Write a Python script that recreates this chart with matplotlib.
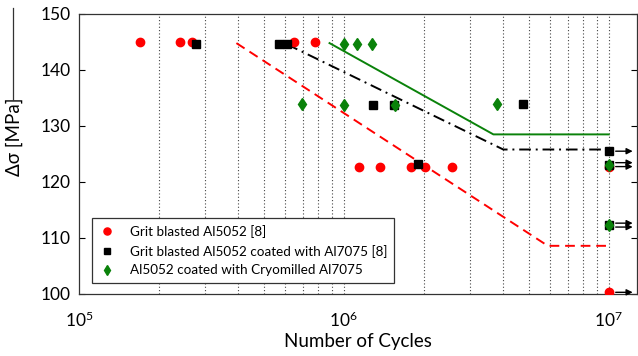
import numpy as np
import matplotlib
matplotlib.use("Agg")
import matplotlib.pyplot as plt
from matplotlib.lines import Line2D

plt.rcParams['font.family'] = ['Lato', 'DejaVu Sans']

# ---- data ----
red_x = [1.70e5, 2.41e5, 2.66e5, 6.46e5, 7.78e5, 1.14e6, 1.37e6, 1.79e6, 2.03e6, 2.55e6, 1.0e7, 1.0e7]
red_y = [145.0, 145.0, 145.0, 145.0, 145.0, 122.7, 122.7, 122.7, 122.7, 122.7, 122.6, 100.3]

blk_x = [2.77e5, 5.70e5, 6.09e5, 1.29e6, 1.55e6, 1.91e6, 4.75e6, 1.0e7, 1.0e7, 1.0e7]
blk_y = [144.7, 144.6, 144.7, 133.7, 133.7, 123.2, 134.0, 125.5, 123.1, 112.3]

grn_x = [6.95e5, 1.0e6, 1.12e6, 1.28e6, 1.0e6, 1.56e6, 3.78e6, 1.0e7, 1.0e7]
grn_y = [133.9, 144.6, 144.6, 144.6, 133.8, 133.7, 133.9, 123.1, 112.3]

red_line_x = [3.93e5, 5.89e6, 1.0e7]
red_line_y = [144.8, 108.6, 108.6]
blk_line_x = [6.09e5, 4.0e6, 1.0e7]
blk_line_y = [144.6, 125.8, 125.8]
grn_line_x = [8.83e5, 3.67e6, 1.0e7]
grn_line_y = [144.8, 128.5, 128.5]

# run-out arrows: (y level, number of arrow shafts)
runout_y = [125.5, 123.1, 112.3, 100.3]
runout_n = [1, 2, 2, 1]

labels = ["Grit blasted Al5052 [8]",
          "Grit blasted Al5052 coated with Al7075 [8]",
          "Al5052 coated with Cryomilled Al7075"]

RED = "#ff0000"
GRN = "#0a820a"

fig = plt.figure(figsize=(6.38, 3.56), dpi=100)
ax = fig.add_axes([0.1238, 0.1742, 0.8742, 0.7865])

ax.set_xscale("log")
ax.set_xlim(1e5, 1.276e7)
ax.set_ylim(100, 150)

# grid: dotted vertical lines at minor/major decades up to 1e7
grid_x = [m * 10 ** e for e in (5, 6) for m in range(2, 10)] + [1e6, 1e7]
for gx in grid_x:
    ax.axvline(gx, color="#444444", lw=0.8, ls=(0, (1, 2)), zorder=0)

ax.plot(red_line_x, red_line_y, color=RED, lw=1.4, ls=(0, (5, 3)), zorder=2)
ax.plot(blk_line_x, blk_line_y, color="black", lw=1.4, ls=(0, (6, 2.5, 1, 2.5)), zorder=2)
ax.plot(grn_line_x, grn_line_y, color=GRN, lw=1.4, ls="-", zorder=2)

ax.plot(red_x, red_y, "o", color=RED, ms=6, ls="none", label=labels[0], zorder=3)
ax.plot(blk_x, blk_y, "s", color="black", ms=5.5, ls="none", label=labels[1], zorder=4)
ax.plot(grn_x, grn_y, "d", color=GRN, ms=6.5, ls="none", label=labels[2], zorder=5)

# run-out arrows
f0 = 10 ** (7.0 / 265)
f1 = 10 ** (24.0 / 265)
for yv, n in zip(runout_y, runout_n):
    offs = [0.0] if n == 1 else [-0.35, 0.35]
    for o in offs:
        ax.annotate("", xy=(1e7 * f1, yv + o), xytext=(1e7 * f0, yv + o),
                    arrowprops=dict(arrowstyle="-|>", color="black", lw=1.0,
                                    mutation_scale=9, shrinkA=0, shrinkB=0),
                    annotation_clip=False)

ax.set_xticks([1e5, 1e6, 1e7])
ax.set_xticklabels([r"$\mathregular{10^5}$", r"$\mathregular{10^6}$", r"$\mathregular{10^7}$"])
ax.xaxis.set_minor_locator(matplotlib.ticker.NullLocator())
ax.set_yticks([100, 110, 120, 130, 140, 150])
ax.tick_params(axis="x", which="both", length=0, pad=12, labelsize=12.5)
ax.tick_params(axis="y", direction="in", length=4, right=True, labelsize=12.5, pad=6, width=0.8)

for s in ax.spines.values():
    s.set_linewidth(0.9)
    s.set_color("#333333")

ax.set_xlabel("Number of Cycles", fontsize=13.5, labelpad=2)
ax.set_ylabel("Δσ [MPa]", fontsize=13.5)
ax.yaxis.set_label_coords(-0.1, 0.56)

leg = ax.legend(loc="lower left", bbox_to_anchor=(0.023, 0.039), borderaxespad=0,
                fontsize=9.7, frameon=True, fancybox=False, edgecolor="#333333",
                framealpha=1, handlelength=1.2, handletextpad=1.1, borderpad=0.5,
                labelspacing=0.5, markerscale=0.85)
leg.get_frame().set_linewidth(0.9)

fig.add_artist(Line2D([13 / 638, 13 / 638], [1 - 8 / 356, 1 - 100 / 356],
                      transform=fig.transFigure, color="#333333", lw=0.9))

fig.savefig("out.png", dpi=100)
